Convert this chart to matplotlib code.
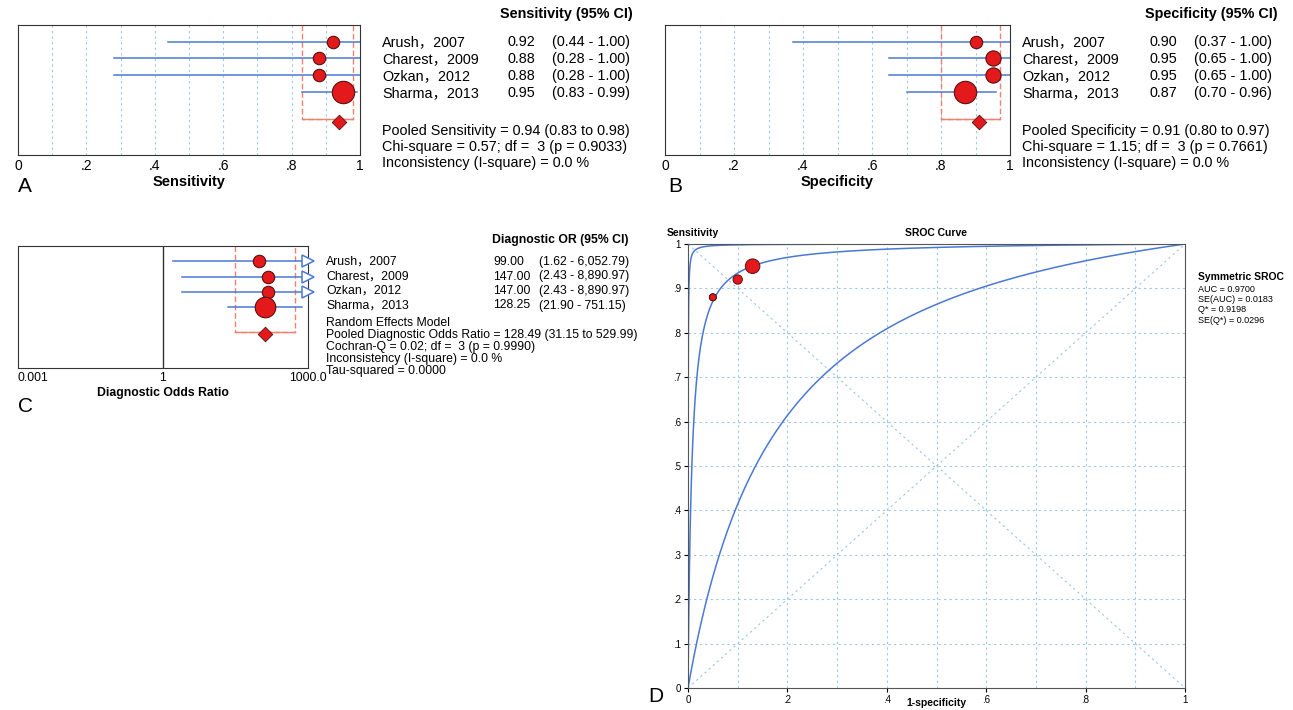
import numpy as np
import matplotlib
matplotlib.use("Agg")
import matplotlib.pyplot as plt

plt.rcParams['font.family'] = ['Liberation Sans', 'Noto Sans CJK SC', 'DejaVu Sans']

W, H = 1293, 710
STUDIES = ["Arush，2007", "Charest，2009", "Ozkan，2012", "Sharma，2013"]

SENS = [0.92, 0.88, 0.88, 0.95]
SENS_LO = [0.44, 0.28, 0.28, 0.83]
SENS_HI = [1.00, 1.00, 1.00, 0.99]
SENS_POOL = (0.94, 0.83, 0.98)

SPEC = [0.90, 0.95, 0.95, 0.87]
SPEC_LO = [0.37, 0.65, 0.65, 0.70]
SPEC_HI = [1.00, 1.00, 1.00, 0.96]
SPEC_POOL = (0.91, 0.80, 0.97)

DOR = [99.00, 147.00, 147.00, 128.25]
DOR_LO = [1.62, 2.43, 2.43, 21.90]
DOR_HI = [6052.79, 8890.97, 8890.97, 751.15]
DOR_POOL = (128.49, 31.15, 529.99)
DOR_TXT = ["99.00", "147.00", "147.00", "128.25"]
DOR_CI_TXT = ["(1.62 - 6,052.79)", "(2.43 - 8,890.97)", "(2.43 - 8,890.97)", "(21.90 - 751.15)"]

# SROC: log-DOR of fitted curve and of the two outer curves
SROC_LNDOR = np.log(128.49)
SROC_OUTER = [1.85, 8.5]

SIZE_A = [80, 80, 80, 260]
SIZE_B = [80, 120, 120, 260]
SIZE_C = [80, 80, 80, 220]
SIZE_D = [45, 25, 25, 110]

RED = "#e3191b"
BLUE = "#4a78d6"
GRID = "#9cc8e6"

fig = plt.figure(figsize=(W / 100, H / 100), dpi=100)


def ax_px(x0, y0, x1, y1):
    return fig.add_axes([x0 / W, 1 - y1 / H, (x1 - x0) / W, (y1 - y0) / H])


def t(x, y, s, **kw):
    kw.setdefault("fontsize", 10.4)
    kw.setdefault("va", "center")
    fig.text(x / W, 1 - y / H, s, **kw)


def forest(ax, est, lo, hi, pool, sizes, xlim, log=False):
    rows = [1.0, 2.0, 3.0, 4.0]
    ax.set_xlim(*xlim)
    if log:
        ax.set_xscale("log")
    ax.set_ylim(7.8, 0)
    for y, e, a, b, s in zip(rows, est, lo, hi, sizes):
        b2 = min(b, xlim[1])
        ax.plot([a, b2], [y, y], color=BLUE, lw=1.1, zorder=2)
        if b > xlim[1]:
            ax.plot([xlim[1]], [y], marker=">", ms=9, mfc="white", mec=BLUE,
                    mew=1.1, clip_on=False, zorder=4)
        ax.scatter([e], [y], s=s, color=RED, edgecolor="#5a1010", lw=0.8, zorder=3)
    p, pl, ph = pool
    yd = 5.8
    ax.plot([pl, pl, ph, ph], [0, yd - 0.15, yd - 0.15, 0], color="#f08070",
            ls=(0, (4, 2)), lw=1.0, zorder=1)
    ax.plot([pl, ph], [yd - 0.15, yd - 0.15], color="#f08070", lw=1.0, zorder=1)
    ax.scatter([p], [yd], marker="D", s=55, color=RED, edgecolor="#5a1010", lw=0.6, zorder=3)
    ax.set_yticks([])
    for sp in ax.spines.values():
        sp.set_color("#333333")


# ---------- A ----------
axA = ax_px(18, 25, 360, 155)
forest(axA, SENS, SENS_LO, SENS_HI, SENS_POOL, SIZE_A, (0, 1))
for gx in np.arange(0.1, 1.0, 0.1):
    axA.axvline(gx, color=GRID, ls=(0, (2, 3)), lw=0.8, zorder=0)
axA.set_xticks([0, .2, .4, .6, .8, 1])
axA.set_xticklabels(["0", ".2", ".4", ".6", ".8", "1"], fontsize=10)
axA.tick_params(length=0, pad=3)
axA.set_xlabel("Sensitivity", fontsize=10.5, fontweight="bold", labelpad=1)
t(18, 186, "A", fontsize=15)
t(633, 14, "Sensitivity (95% CI)", ha="right", fontweight="bold")
for i, (n, e, a, b) in enumerate(zip(STUDIES, SENS, SENS_LO, SENS_HI)):
    y = 42 + i * 17
    t(382, y, n)
    t(508, y, f"{e:.2f}")
    t(552, y, f"({a:.2f} - {b:.2f})")
t(382, 131, "Pooled Sensitivity = 0.94 (0.83 to 0.98)")
t(382, 147, "Chi-square = 0.57; df =  3 (p = 0.9033)")
t(382, 163, "Inconsistency (I-square) = 0.0 %")

# ---------- B ----------
axB = ax_px(665, 25, 1010, 155)
forest(axB, SPEC, SPEC_LO, SPEC_HI, SPEC_POOL, SIZE_B, (0, 1))
for gx in np.arange(0.1, 1.0, 0.1):
    axB.axvline(gx, color=GRID, ls=(0, (2, 3)), lw=0.8, zorder=0)
axB.set_xticks([0, .2, .4, .6, .8, 1])
axB.set_xticklabels(["0", ".2", ".4", ".6", ".8", "1"], fontsize=10)
axB.tick_params(length=0, pad=3)
axB.set_xlabel("Specificity", fontsize=10.5, fontweight="bold", labelpad=1)
t(668, 186, "B", fontsize=15)
t(1278, 14, "Specificity (95% CI)", ha="right", fontweight="bold")
for i, (n, e, a, b) in enumerate(zip(STUDIES, SPEC, SPEC_LO, SPEC_HI)):
    y = 42 + i * 17
    t(1022, y, n)
    t(1150, y, f"{e:.2f}")
    t(1194, y, f"({a:.2f} - {b:.2f})")
t(1022, 131, "Pooled Specificity = 0.91 (0.80 to 0.97)")
t(1022, 147, "Chi-square = 1.15; df =  3 (p = 0.7661)")
t(1022, 163, "Inconsistency (I-square) = 0.0 %")

# ---------- C ----------
axC = ax_px(18, 246, 308, 368)
forest(axC, DOR, DOR_LO, DOR_HI, DOR_POOL, SIZE_C, (0.001, 1000), log=True)
axC.set_ylim(8.0, 0)
axC.axvline(1, color="#333333", lw=1.0, zorder=1)
axC.set_xticks([0.001, 1, 1000])
axC.set_xticklabels(["0.001", "1", "1000.0"], fontsize=8.8)
axC.xaxis.set_minor_locator(matplotlib.ticker.NullLocator())
axC.tick_params(length=0, pad=3)
for lab, ha in zip(axC.get_xticklabels(), ["left", "center", "center"]):
    lab.set_ha(ha)
axC.set_xlabel("Diagnostic Odds Ratio", fontsize=8.8, fontweight="bold", labelpad=2)
t(18, 406, "C", fontsize=15)
fs = 8.8
t(629, 240, "Diagnostic OR (95% CI)", ha="right", fontweight="bold", fontsize=fs)
for i, (n, e, c) in enumerate(zip(STUDIES, DOR_TXT, DOR_CI_TXT)):
    y = 262 + i * 14.5
    t(326, y, n, fontsize=fs)
    t(493, y, e, fontsize=fs)
    t(539, y, c, fontsize=fs)
t(326, 323, "Random Effects Model", fontsize=fs)
t(326, 335, "Pooled Diagnostic Odds Ratio = 128.49 (31.15 to 529.99)", fontsize=fs)
t(326, 347, "Cochran-Q = 0.02; df =  3 (p = 0.9990)", fontsize=fs)
t(326, 359, "Inconsistency (I-square) = 0.0 %", fontsize=fs)
t(326, 371, "Tau-squared = 0.0000", fontsize=fs)

# ---------- D ----------
axD = ax_px(688, 244, 1185, 688)
axD.set_xlim(0, 1)
axD.set_ylim(0, 1)
for g in np.arange(0.1, 1.0, 0.1):
    axD.axvline(g, color=GRID, ls=(0, (2, 3)), lw=0.8, zorder=0)
    axD.axhline(g, color=GRID, ls=(0, (2, 3)), lw=0.8, zorder=0)
axD.plot([0, 1], [0, 1], color=GRID, ls=(0, (2, 3)), lw=0.8, zorder=0)
axD.plot([0, 1], [1, 0], color=GRID, ls=(0, (2, 3)), lw=0.8, zorder=0)
fpr = np.concatenate([np.logspace(-6, -1, 300), np.linspace(0.1, 1, 300)])
for d in [SROC_LNDOR] + SROC_OUTER:
    lf = np.log(fpr / (1 - fpr + 1e-12))
    tpr = 1 / (1 + np.exp(-(d + lf)))
    axD.plot(np.r_[0, fpr], np.r_[0, tpr], color=BLUE, lw=1.1, zorder=2)
axD.scatter([1 - s for s in SPEC], SENS, s=SIZE_D, color=RED, edgecolor="#5a1010",
            lw=0.7, zorder=3)
axD.set_xticks(np.arange(0, 1.01, 0.2))
axD.set_xticklabels(["0", ".2", ".4", ".6", ".8", "1"], fontsize=7)
axD.set_yticks(np.arange(0, 1.01, 0.1))
axD.set_yticklabels(["0", ".1", ".2", ".3", ".4", ".5", ".6", ".7", ".8", ".9", "1"], fontsize=7)
axD.tick_params(length=3, pad=2)
for sp in axD.spines.values():
    sp.set_color("#555555")
t(936, 703, "1-specificity", fontsize=7.5, fontweight="bold", ha="center")
t(667, 233, "Sensitivity", fontsize=7.5, fontweight="bold")
t(936, 233, "SROC Curve", fontsize=7.5, fontweight="bold", ha="center")
t(648, 697, "D", fontsize=15)
t(1198, 277, "Symmetric SROC", fontsize=7.5, fontweight="bold")
for i, s in enumerate(["AUC = 0.9700", "SE(AUC) = 0.0183", "Q* = 0.9198", "SE(Q*) = 0.0296"]):
    t(1198, 289 + i * 10.5, s, fontsize=6.5)

fig.savefig("out.png", dpi=100)
